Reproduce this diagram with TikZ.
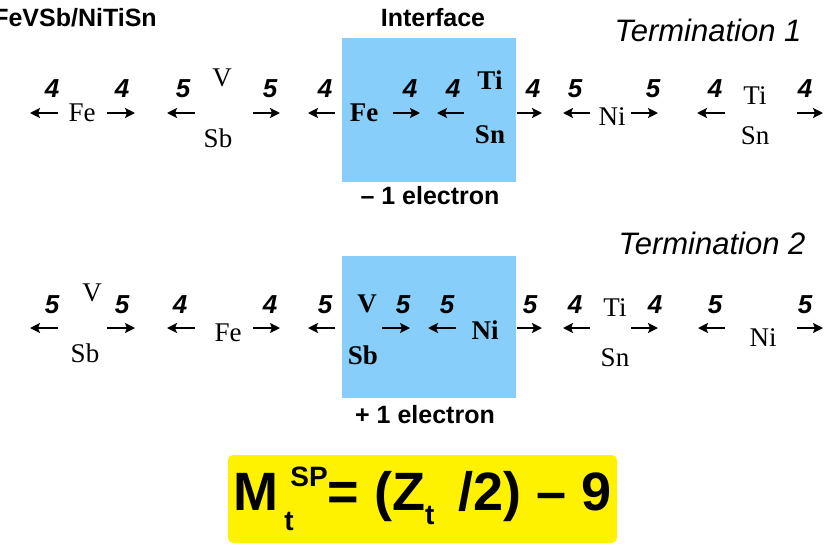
\documentclass[tikz,border=0pt]{standalone}
\usepackage{fontspec}
\setmainfont{Liberation Serif}
\setsansfont{Liberation Sans}
\usetikzlibrary{arrows.meta}
\definecolor{ifblue}{RGB}{135,206,250}

\tikzset{
    elem/.style={font=\fontsize{27}{27}\selectfont\rmfamily, inner sep=0pt},
    belem/.style={elem, font=\fontsize{27}{27}\selectfont\rmfamily\bfseries},
    num/.style={font=\fontsize{26}{26}\selectfont\sffamily\bfseries\itshape, inner sep=0pt},
    arr/.style={line width=2.3pt, -{Stealth[length=10pt,width=10pt,inset=2pt]}},
    title/.style={font=\fontsize{25}{25}\selectfont\sffamily\bfseries, inner sep=0pt},
    term/.style={font=\fontsize{31}{31}\selectfont\sffamily\itshape, inner sep=0pt}
}

\begin{document}
\begin{tikzpicture}[x=1pt, y=-1pt]
    \useasboundingbox (0,0) rectangle (830,558);

    % interface boxes
    \fill[ifblue] (342,38) rectangle (516,182);
    \fill[ifblue] (342,256) rectangle (516,398);

    % titles
    \node[title] (sys) at (75,18) {FeVSb/NiTiSn};
    \node[title] (iface) at (433,18) {Interface};
    \node[term] (term1) at (708,30) {Termination 1};
    \node[term] (term2) at (712,243) {Termination 2};
    \node[title] (minus) at (430,196) {-- 1 electron};
    \node[title] (plus) at (425,415) {+ 1 electron};

    % termination 1: arrows (start, end, number x, number)
    \foreach \s/\e/\n/\v in {58/30/52/4, 107/135/122/4, 195/167/183/5, 253/280/270/5,
                             335/308/325/4, 393/420/410/4, 464/437/453/4, 517/542/533/4,
                             590/563/575/5, 631/658/653/5, 725/697/715/4, 797/823/805/4}{
        \draw[arr] (\s,113) -- (\e,113);
        \node[num] at (\n,89) {\v};
    }
    \node[elem] (fe1) at (82,113) {Fe};
    \node[elem] (v1) at (222,78) {V};
    \node[elem] (sb1) at (218,138) {Sb};
    \node[belem] (fe1i) at (364,113) {Fe};
    \node[belem] (ti1i) at (490,80) {Ti};
    \node[belem] (sn1i) at (490,135) {Sn};
    \node[elem] (ni1) at (612,117) {Ni};
    \node[elem] (ti1) at (755,96) {Ti};
    \node[elem] (sn1) at (755,136) {Sn};

    % termination 2
    \foreach \s/\e/\n/\v in {58/30/52/5, 107/135/122/5, 195/167/180/4, 253/280/270/4,
                             335/308/325/5, 382/410/403/5, 456/428/447/5, 517/542/530/5,
                             590/563/575/4, 631/658/655/4, 725/698/715/5, 797/823/805/5}{
        \draw[arr] (\s,328) -- (\e,328);
        \node[num] at (\n,305) {\v};
    }
    \node[elem] (v2) at (92,293) {V};
    \node[elem] (sb2) at (85,353) {Sb};
    \node[elem] (fe2) at (228,333) {Fe};
    \node[belem] (v2i) at (367,304) {V};
    \node[belem] (sb2i) at (363,355) {Sb};
    \node[belem] (ni2i) at (485,330) {Ni};
    \node[elem] (ti2) at (615,308) {Ti};
    \node[elem] (sn2) at (615,358) {Sn};
    \node[elem] (ni2) at (763,338) {Ni};

    % formula
    \node[fill=yellow, rounded corners=5pt, minimum width=389pt, minimum height=88pt,
          font=\fontsize{54}{54}\selectfont\sffamily\bfseries] (formula) at (422.5,499)
        {M\hspace{6pt}{\fontsize{28}{28}\selectfont\makebox[0pt][l]{\hspace{6pt}\raisebox{24pt}{SP}}\raisebox{-20pt}{t}}\hspace{34pt}= (Z\raisebox{-14pt}{\fontsize{28}{28}\selectfont t}\, /2) -- 9};
\end{tikzpicture}
\end{document}
